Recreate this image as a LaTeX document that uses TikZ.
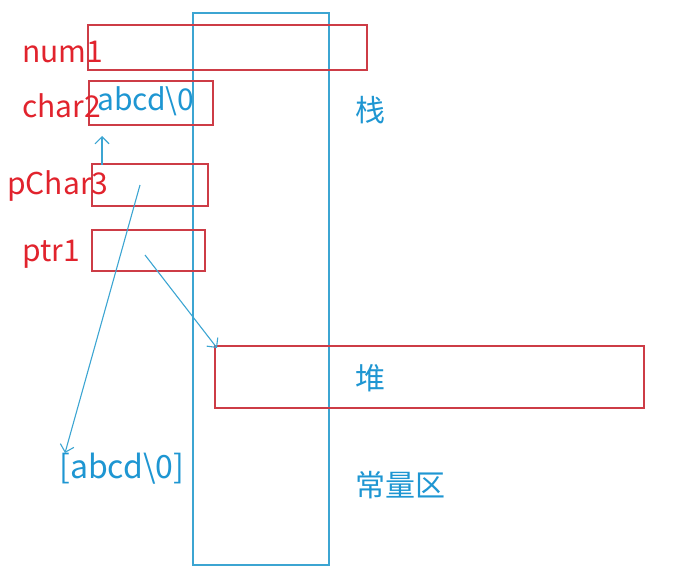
\documentclass[tikz,border=0pt]{standalone}
\usepackage{fontspec}
\setmainfont{Noto Sans CJK SC}
\usetikzlibrary{arrows.meta}
\definecolor{tred}{RGB}{225,35,45}
\definecolor{bred}{RGB}{205,60,70}
\definecolor{tblue}{RGB}{30,150,210}
\definecolor{lblue}{RGB}{60,165,210}
\begin{document}
\begin{tikzpicture}[x=1pt,y=-1pt,
  box/.style={draw=bred,line width=1.6pt},
  lab/.style={text=tred,font=\fontsize{30}{32}\selectfont,inner sep=0pt,anchor=west},
  btxt/.style={text=tblue,font=\fontsize{30}{32}\selectfont,inner sep=0pt,anchor=west},
  ptr/.style={draw=lblue,line width=1.1pt,-{Straight Barb[length=7pt,width=14pt]}}]
\useasboundingbox (0,0) rectangle (679,585);
\draw[draw=lblue,line width=1.5pt] (193,13) rectangle (329,565);
\node[box,minimum width=279pt,minimum height=45pt,anchor=north west] (num) at (87,24) {};
\node[box,minimum width=124pt,minimum height=44pt,anchor=north west] (chr) at (88,80) {};
\node[box,minimum width=116pt,minimum height=42pt,anchor=north west] (pch) at (91,163) {};
\node[box,minimum width=113pt,minimum height=41pt,anchor=north west] (ptr) at (91,229) {};
\node[box,minimum width=429pt,minimum height=62pt,anchor=north west] (heap) at (214,345) {};
\node[lab] (lnum) at (22,52) {num1};
\node[lab] (lchr) at (22,106) {char2};
\node[lab] (lpch) at (7,186) {pChar3};
\node[lab] (lptr) at (22,254) {ptr1};
\node[btxt] (s1) at (97,101) {abcd\textbackslash0};
\node[btxt] (zhan) at (355,110) {栈};
\node[btxt] (dui) at (355,378) {堆};
\node[btxt] (cl) at (355,485) {常量区};
\node[btxt,font=\fontsize{32}{34}\selectfont] (s2) at (59,469) {[abcd\textbackslash0]};
\coordinate (a1) at (102,165);
\coordinate (a2) at (140,185);
\coordinate (a3) at (145,255);
\coordinate (t1) at (102,136);
\coordinate (t2) at (65,453);
\coordinate (t3) at (217,348);
\draw[ptr] (a1) -- (t1);
\draw[ptr] (a2) -- (t2);
\draw[ptr] (a3) -- (t3);
\end{tikzpicture}
\end{document}
